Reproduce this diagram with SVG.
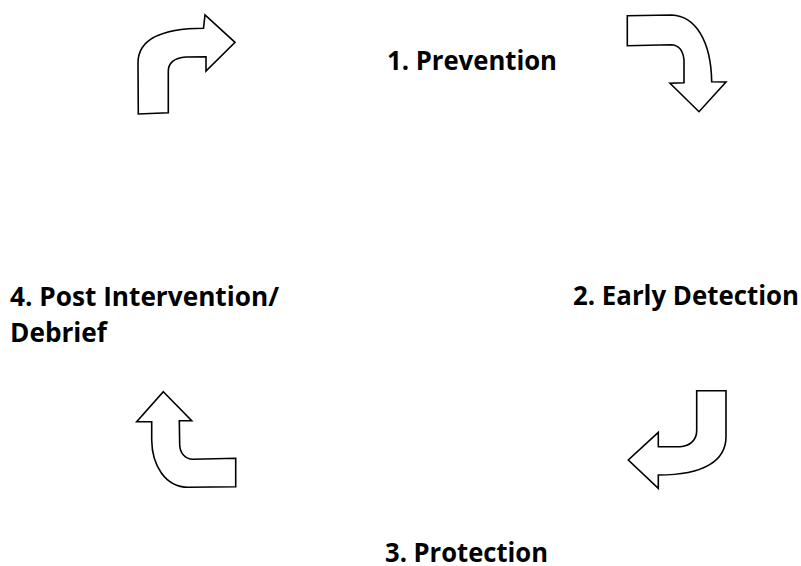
<svg xmlns="http://www.w3.org/2000/svg" width="801" height="566" viewBox="0 0 801 566">
<style>
.arrow{fill:#fff;stroke:#000;stroke-width:1.6;stroke-linejoin:miter}
.lbl{font-family:"Open Sans","Liberation Sans",sans-serif;font-weight:bold;font-size:26px;fill:#000}
</style>
<rect width="801" height="566" fill="#fff"/>
<g id="connectors">
<path id="arrow-top-left" class="arrow" d="M138.3,114 L138,63 C138,40 160,28.5 203.5,28.3 L205,15 L235,42.3 L206,71 L206,56.7 L186,57 C173,58 168,63 168.3,72 L168.3,112.7 Z"/>
<path id="arrow-top-right" class="arrow" d="M627.3,15.7 L671.7,15 C695,16 711,40 711.7,81.7 L726,82 L699,111.7 L670,83.3 L684,82.7 L684,60 C683,50 678,45 671,44.8 L627.3,45.7 Z"/>
<path id="arrow-bottom-right" class="arrow" d="M696.7,390.7 L726,390.7 L726,436.7 C726,460 705,475 658.3,475 L658.3,488.3 L628.3,460 L658.3,432.3 L658.3,446.7 L680,446.7 C690,446 697,440 696.7,430 Z"/>
<path id="arrow-bottom-left" class="arrow" d="M163.3,391.7 L191.7,420.7 L179.3,420.7 L179.7,445 C180,453 185,459 193,459.3 L235.7,458.3 L235.7,486.7 L188.3,487.3 C165,487 152,465 151.7,440 L151.7,421.7 L136.7,421.7 Z"/>
</g>
<g id="node-prevention"><text class="lbl" x="387" y="70" textLength="170" lengthAdjust="spacingAndGlyphs">1. Prevention</text></g>
<g id="node-early-detection"><text class="lbl" x="573" y="305" textLength="226" lengthAdjust="spacingAndGlyphs">2. Early Detection</text></g>
<g id="node-protection"><text class="lbl" x="385" y="562" textLength="163" lengthAdjust="spacingAndGlyphs">3. Protection</text></g>
<g id="node-post-intervention">
<text class="lbl" x="10" y="305.5" textLength="269" lengthAdjust="spacingAndGlyphs">4. Post Intervention/</text>
<text class="lbl" x="10" y="341.5" textLength="97" lengthAdjust="spacingAndGlyphs">Debrief</text>
</g>
</svg>
